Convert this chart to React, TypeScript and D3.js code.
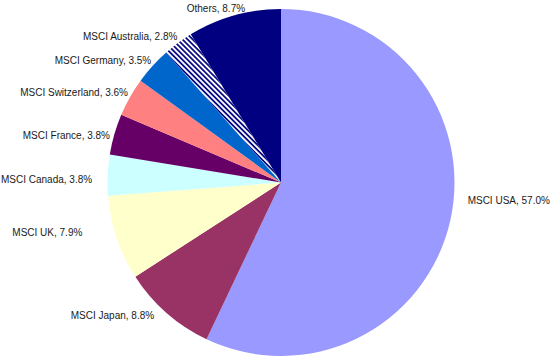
import React from "react";
import * as d3 from "d3";

const categories = [
  "MSCI USA",
  "MSCI Japan",
  "MSCI UK",
  "MSCI Canada",
  "MSCI France",
  "MSCI Switzerland",
  "MSCI Germany",
  "MSCI Australia",
  "Others",
];
const values = [57.0, 8.8, 7.9, 3.8, 3.8, 3.6, 3.5, 2.8, 8.7];
const colors = [
  "#9999FF",
  "#993366",
  "#FFFFCC",
  "#CCFFFF",
  "#660066",
  "#FF8080",
  "#0066CC",
  "url(#stripes)",
  "#000080",
];

// layout: small label nudges (px) from the radial anchor, keyed by category
const labelNudge: Record<string, [number, number]> = {
  "MSCI USA": [13, -21.5],
  "MSCI Japan": [-9.5, -1],
  "MSCI UK": [-30, -7],
  "MSCI Canada": [-11, 4.5],
  "MSCI France": [0, 2.5],
  "MSCI Switzerland": [2, -2.5],
  "MSCI Germany": [2, -2.5],
  "MSCI Australia": [2, -3],
  Others: [-17, -2.5],
};

const W = 550;
const H = 363;
const cx = 281;
const cy = 182.5;
const R = 173.5;
const labelR = 178;

export default function App() {
  const data = categories.map((c, i) => ({ name: c, value: values[i], color: colors[i] }));
  const pie = d3
    .pie<any>()
    .value((d) => d.value)
    .sort(null)
    .startAngle(0)
    .endAngle(2 * Math.PI);
  const arcs = pie(data);
  const arc = d3.arc<any>().innerRadius(0).outerRadius(R);

  return (
    <svg
      width={W}
      height={H}
      style={{ position: "absolute", left: 0, top: 0, background: "#fff" }}
      fontFamily="'Liberation Sans', Arial, sans-serif"
      fontSize={10}
    >
      <defs>
        <pattern
          id="stripes"
          patternUnits="userSpaceOnUse"
          width={3.6}
          height={3.6}
          patternTransform="rotate(45)"
        >
          <rect width={3.6} height={3.6} fill="#ffffff" />
          <rect width={3.6} height={1.7} fill="#000080" />
        </pattern>
      </defs>
      <rect width={W} height={H} fill="#fff" />
      <g transform={`translate(${cx},${cy})`}>
        {arcs.map((a, i) => (
          <path key={i} d={arc(a) as string} fill={a.data.color} />
        ))}
        {arcs.map((a, i) => {
          const mid = (a.startAngle + a.endAngle) / 2;
          const sx = Math.sin(mid);
          const sy = -Math.cos(mid);
          const [nx, ny] = labelNudge[a.data.name] || [0, 0];
          const x = labelR * sx + nx;
          const y = labelR * sy + ny;
          let anchor = "middle";
          if (sx > 0.35) anchor = "start";
          else if (sx < -0.35) anchor = "end";
          return (
            <text key={"t" + i} x={x} y={y + 3.6} textAnchor={anchor} fill="#1a1a1a">
              {`${a.data.name}, ${a.data.value.toFixed(1)}%`}
            </text>
          );
        })}
      </g>
    </svg>
  );
}
